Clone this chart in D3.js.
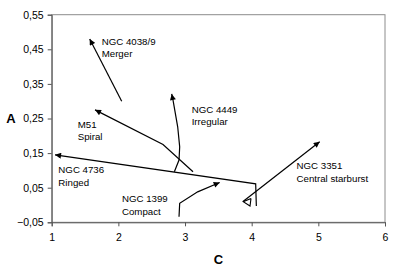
<!DOCTYPE html>
<html><head><meta charset="utf-8">
<script src="https://cdn.jsdelivr.net/npm/d3@7"></script>
<style>
html,body{margin:0;padding:0;background:#fff;}
svg{display:block;font-family:"Liberation Sans",Arial,sans-serif;}
</style></head>
<body><svg id="c" width="399" height="273"></svg>
<script>
// ---- data ----
const galaxies = ["NGC 4038/9","M51","NGC 4449","NGC 4736","NGC 1399","NGC 3351"];
const types = ["Merger","Spiral","Irregular","Ringed","Compact","Central starburst"];
const cValues = [
  [2.05,1.57],
  [3.12,2.67,1.65],
  [2.84,2.91,2.92,2.89,2.82,2.80],
  [4.07,4.06,1.05],
  [2.91,2.92,3.19,3.52],
  [3.87,5.02]
];
const aValues = [
  [0.30,0.48],
  [0.096,0.175,0.275],
  [0.096,0.130,0.168,0.226,0.303,0.321],
  [-0.003,0.061,0.145],
  [-0.034,0.005,0.038,0.065],
  [0.010,0.183]
];
// open start marker of NGC 3351
const startMarkC = [3.99,3.873,3.975,3.99];
const startMarkA = [0.019,0.0095,-0.003,0.019];
// label anchors (C, A)
const labelC = [1.75,1.39,3.10,1.10,2.054,4.673];
const labelA = [0.462,0.222,0.266,0.0916,0.0078,0.103];
const xTicks = [1,2,3,4,5,6];
const yTicks = [-0.05,0.05,0.15,0.25,0.35,0.45,0.55];

// ---- chart ----
const svg = d3.select("#c");
const L=51.7, R=385, T=14.7, B=222.3;
const x = d3.scaleLinear().domain([1,6]).range([L,R]);
const y = d3.scaleLinear().domain([-0.05,0.55]).range([B,T]);

svg.append("defs").append("marker")
  .attr("id","ah").attr("viewBox","0 -5 10 10")
  .attr("refX",10).attr("refY",0)
  .attr("markerUnits","userSpaceOnUse")
  .attr("markerWidth",9).attr("markerHeight",6)
  .attr("orient","auto")
  .append("path").attr("d","M0,-5L10,0L0,5Z").attr("fill","#000");

// frame
svg.append("rect").attr("x",L).attr("y",T).attr("width",R-L).attr("height",B-T)
  .attr("fill","none").attr("stroke","#8c8c8c").attr("stroke-width",1);

const fmt = d => d3.format(".2f")(d).replace(".",",");
const yAxis = svg.append("g").attr("transform",`translate(${L},0)`)
  .call(d3.axisLeft(y).tickValues(yTicks).tickFormat(fmt).tickSize(4).tickPadding(4));
const xAxis = svg.append("g").attr("transform",`translate(0,${B})`)
  .call(d3.axisBottom(x).tickValues(xTicks).tickFormat(d3.format("d")).tickSize(4).tickPadding(7));
[yAxis,xAxis].forEach(g=>{
  g.select(".domain").attr("stroke","#555");
  g.selectAll(".tick line").attr("stroke","#555");
  g.selectAll("text").attr("fill","#000").style("font-size","10.5px")
   .style("font-family","'Liberation Sans',Arial,sans-serif");
});

// axis titles
svg.append("text").attr("x",11).attr("y",123).attr("text-anchor","middle")
  .style("font-size","13px").style("font-weight","bold").text("A");
svg.append("text").attr("x",218.5).attr("y",263.5).attr("text-anchor","middle")
  .style("font-size","13px").style("font-weight","bold").text("C");

// paths
const line = d3.line().x(d=>x(d[0])).y(d=>y(d[1]));
galaxies.forEach((g,i)=>{
  const pts = cValues[i].map((c,j)=>[c,aValues[i][j]]);
  svg.append("path").attr("d",line(pts)).attr("fill","none")
    .attr("stroke","#000").attr("stroke-width",1.2)
    .attr("marker-end","url(#ah)");
});
svg.append("path").attr("d",line(startMarkC.map((c,j)=>[c,startMarkA[j]])))
  .attr("fill","none").attr("stroke","#000").attr("stroke-width",1.1);

// labels
galaxies.forEach((g,i)=>{
  const t = svg.append("text").attr("x",x(labelC[i])).attr("y",y(labelA[i]))
    .style("font-size","9.7px").attr("fill","#000");
  t.append("tspan").attr("x",x(labelC[i])).text(g);
  t.append("tspan").attr("x",x(labelC[i])).attr("dy",12.3).text(types[i]);
});
</script></body></html>
